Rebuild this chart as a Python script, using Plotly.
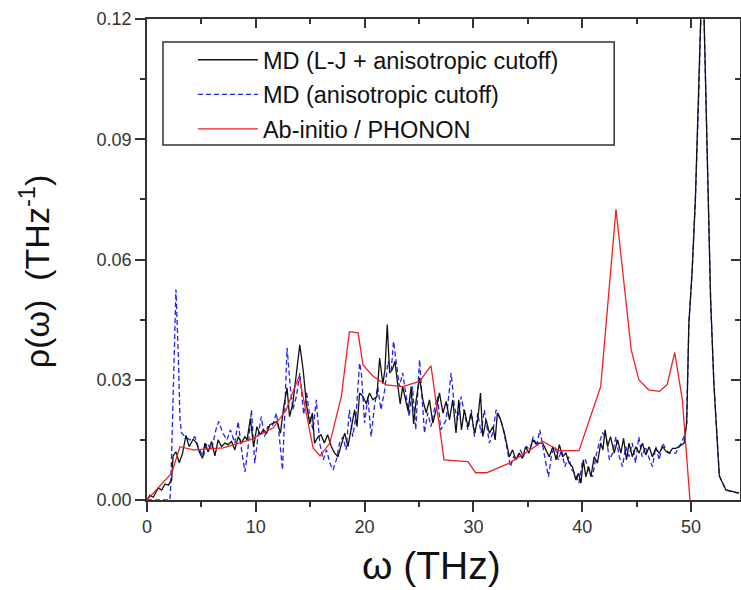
import plotly.graph_objects as go

# ---------------- data ----------------
# MD (L-J + anisotropic cutoff)  -- black
w_lj = [0.0, 0.27, 0.58, 1.04, 1.35, 1.65, 1.96, 2.26, 2.4, 2.66, 2.97, 3.27, 3.58, 3.88, 4.25, 4.56,
        4.8, 5.1, 5.32, 5.63, 5.93, 6.24, 6.54, 6.85, 7.16, 7.46, 7.77, 8.07, 8.38, 8.69, 8.99, 9.2,
        9.5, 9.8, 10.1, 10.4, 10.7, 11.0, 11.3, 11.65, 11.96, 12.26, 12.57, 12.87, 13.1, 13.4, 13.75,
        14.04, 14.35, 14.65, 14.96, 15.2, 15.4, 15.72, 16.0, 16.3, 16.6, 16.94, 17.25, 17.55, 17.86,
        18.17, 18.47, 18.78, 19.08, 19.3, 19.54, 19.85, 20.15, 20.45, 20.76, 21.13, 21.38, 21.68,
        21.87, 22.08, 22.3, 22.54, 22.79, 23.03, 23.27, 23.5, 23.76, 24.0, 24.28, 24.5, 24.74, 25.05,
        25.35, 25.66, 25.96, 26.27, 26.57, 26.88, 27.2, 27.5, 27.8, 28.1, 28.4, 28.65, 28.9, 29.17,
        29.5, 29.8, 30.1, 30.4, 30.65, 30.86, 31.17, 31.47, 31.8, 32.0, 32.2, 32.5, 32.85, 33.3, 33.6,
        33.9, 34.2, 34.5, 34.8, 35.1, 35.45, 35.75, 36.05, 36.36, 36.66, 36.97, 37.3, 37.6, 37.9, 38.2,
        38.5, 38.8, 39.1, 39.42, 39.66, 39.88, 40.1, 40.33, 40.58, 40.8, 41.1, 41.4, 41.7, 41.9, 42.1,
        42.33, 42.6, 42.94, 43.25, 43.55, 43.8, 44.07, 44.3, 44.6, 44.92, 45.23, 45.54, 45.84, 46.15,
        46.45, 46.76, 47.07, 47.4, 47.7, 48.0, 48.3, 48.6, 48.9, 49.36, 49.6, 49.8, 50.1, 50.4, 50.7,
        50.97, 51.05, 51.2, 51.5, 51.8, 52.1, 52.6, 53.2, 54.4]
rho_lj = [0.0, 0.0012, 0.0007, 0.003, 0.0025, 0.004, 0.0037, 0.005, 0.011, 0.012, 0.0093, 0.0117,
          0.0161, 0.0133, 0.0152, 0.0142, 0.012, 0.0104, 0.0142, 0.012, 0.0146, 0.011, 0.015, 0.0133,
          0.0142, 0.0138, 0.0146, 0.0125, 0.0158, 0.0142, 0.0158, 0.015, 0.0204, 0.0133, 0.0183,
          0.0163, 0.0175, 0.0167, 0.0188, 0.0192, 0.0196, 0.0167, 0.0233, 0.028, 0.0208, 0.024, 0.0325,
          0.0387, 0.0325, 0.024, 0.019, 0.0217, 0.0142, 0.0158, 0.0163, 0.0142, 0.0163, 0.0133, 0.0117,
          0.0108, 0.0138, 0.0167, 0.0133, 0.0175, 0.0225, 0.0183, 0.0267, 0.0258, 0.024, 0.0267, 0.025,
          0.0258, 0.0354, 0.029, 0.0325, 0.0438, 0.0317, 0.0325, 0.0346, 0.029, 0.024, 0.0283, 0.025,
          0.0221, 0.0283, 0.019, 0.025, 0.0305, 0.025, 0.0217, 0.025, 0.0192, 0.0225, 0.0267, 0.0217,
          0.0246, 0.02, 0.025, 0.0167, 0.025, 0.0175, 0.0225, 0.0183, 0.0217, 0.0167, 0.02, 0.0267,
          0.0158, 0.02, 0.0167, 0.0183, 0.015, 0.0217, 0.02, 0.0167, 0.0108, 0.0125, 0.01, 0.0117,
          0.0104, 0.0133, 0.0117, 0.015, 0.0142, 0.0142, 0.0142, 0.0125, 0.0108, 0.0133, 0.01, 0.0138,
          0.0108, 0.0117, 0.0092, 0.0083, 0.005, 0.0067, 0.0042, 0.01, 0.0058, 0.0083, 0.0058, 0.0108,
          0.0092, 0.0142, 0.0125, 0.0175, 0.0133, 0.0158, 0.0117, 0.015, 0.0117, 0.0154, 0.01, 0.0142,
          0.0108, 0.0133, 0.0117, 0.0142, 0.0112, 0.0133, 0.0108, 0.0129, 0.0117, 0.0133, 0.0121,
          0.0117, 0.0129, 0.0129, 0.0133, 0.0142, 0.0192, 0.044, 0.057, 0.075, 0.10, 0.12, 0.135,
          0.12, 0.083, 0.050, 0.029, 0.006, 0.0025, 0.0017]

# MD (anisotropic cutoff)  -- blue dashed
w_an = [0.0, 1.0, 2.11, 2.2, 2.45, 2.66, 2.87, 3.03, 3.18, 3.5, 3.95, 4.4, 4.7, 5.17, 5.5, 5.93, 6.33,
        6.6, 6.97, 7.35, 7.67, 8.07, 8.38, 8.69, 9.0, 9.3, 9.6, 9.9, 10.2, 10.5, 10.8, 11.1, 11.5,
        11.9, 12.1, 12.45, 12.66, 12.87, 13.18, 13.4, 13.73, 14.04, 14.4, 14.65, 14.96, 15.26, 15.56,
        15.87, 16.2, 16.5, 16.8, 17.1, 17.4, 17.7, 18.0, 18.3, 18.6, 18.9, 19.2, 19.54, 19.7, 20.0,
        20.3, 20.6, 20.9, 21.2, 21.5, 21.85, 22.15, 22.45, 22.66, 22.9, 23.2, 23.5, 23.8, 24.1, 24.4,
        24.7, 25.05, 25.5, 25.8, 26.1, 26.4, 26.7, 27.0, 27.5, 27.95, 28.25, 28.55, 28.87, 29.17, 29.5,
        29.8, 30.1, 30.4, 30.7, 31.0, 31.47, 31.77, 32.08, 32.4, 32.7, 33.06, 33.4, 33.7, 34.0, 34.3,
        34.6, 34.9, 35.2, 35.5, 35.8, 36.1, 36.4, 36.66, 36.9, 37.2, 37.5, 37.8, 38.1, 38.4, 38.75,
        39.05, 39.35, 39.7, 40.0, 40.3, 40.6, 40.95, 41.25, 41.56, 41.86, 42.2, 42.5, 42.8, 43.1, 43.4,
        43.7, 44.0, 44.3, 44.6, 44.9, 45.2, 45.5, 45.8, 46.1, 46.45, 46.76, 47.07, 47.4, 47.7, 48.0,
        48.3, 48.6, 49.0, 49.36, 49.6, 49.8, 50.1, 50.4, 50.7, 50.97, 51.05, 51.2, 51.5, 51.8, 52.1,
        52.6, 53.2, 54.4]
rho_an = [0.0, 0.0, 0.0, 0.005, 0.03, 0.0525, 0.0367, 0.02, 0.0167, 0.0158, 0.015, 0.0158, 0.0133,
          0.0108, 0.0142, 0.0125, 0.0175, 0.0196, 0.0167, 0.015, 0.0175, 0.0142, 0.0196, 0.0125,
          0.007, 0.0133, 0.0225, 0.0092, 0.0158, 0.0208, 0.0158, 0.0183, 0.0183, 0.0217, 0.0175,
          0.0075, 0.0217, 0.038, 0.028, 0.0225, 0.0258, 0.0317, 0.0213, 0.0271, 0.0208, 0.0175, 0.025,
          0.0142, 0.01, 0.0125, 0.0092, 0.0075, 0.01, 0.0142, 0.0158, 0.0125, 0.0225, 0.0158, 0.0208,
          0.0342, 0.0317, 0.0192, 0.0258, 0.0158, 0.0233, 0.0283, 0.0225, 0.0275, 0.0346, 0.0325,
          0.0396, 0.0342, 0.0283, 0.0317, 0.0258, 0.0208, 0.0283, 0.0175, 0.035, 0.0167, 0.0217,
          0.0183, 0.0225, 0.0258, 0.0175, 0.02, 0.0317, 0.0233, 0.02, 0.0258, 0.0217, 0.0175, 0.0225,
          0.0158, 0.0217, 0.0167, 0.0225, 0.0142, 0.0167, 0.0225, 0.0208, 0.0183, 0.0133, 0.0083,
          0.0108, 0.01, 0.0125, 0.0108, 0.0133, 0.0125, 0.0158, 0.0133, 0.0175, 0.0125, 0.0092, 0.0058,
          0.0117, 0.0133, 0.01, 0.0125, 0.0083, 0.0108, 0.0075, 0.0067, 0.0042, 0.0092, 0.01, 0.0075,
          0.0058, 0.0108, 0.0142, 0.0167, 0.0158, 0.01, 0.0117, 0.0158, 0.0108, 0.0083, 0.0133, 0.0108,
          0.0142, 0.0092, 0.0158, 0.0108, 0.0133, 0.0108, 0.0083, 0.0133, 0.01, 0.0142, 0.0125, 0.0117,
          0.0117, 0.0117, 0.0138, 0.0158, 0.0192, 0.044, 0.057, 0.075, 0.10, 0.12, 0.135, 0.12, 0.083,
          0.050, 0.029, 0.006, 0.0025, 0.0017]

# Ab-initio / PHONON  -- red
w_ab = [0.0, 2.26, 3.03, 4.25, 7.0, 9.45, 11.6, 12.8, 13.7, 13.98, 15.27, 15.9, 16.8, 17.86, 18.6, 19.4,
        19.85, 20.8, 22.0, 23.5, 25.05, 26.1, 27.3, 29.5, 30.2, 31.2, 33.3, 36.4, 37.9, 39.7, 41.7,
        43.1, 43.7, 44.5, 45.2, 46.1, 47.1, 47.8, 48.5, 49.2, 49.9]
rho_ab = [0.0, 0.0067, 0.0133, 0.0125, 0.013, 0.015, 0.018, 0.0225, 0.029, 0.0308, 0.0129, 0.011,
          0.0142, 0.0258, 0.042, 0.0417, 0.0337, 0.0308, 0.0287, 0.0283, 0.0296, 0.0335, 0.010,
          0.0096, 0.0068, 0.0068, 0.0092, 0.0146, 0.0123, 0.0123, 0.0283, 0.0725, 0.0575, 0.0375,
          0.030, 0.0275, 0.0271, 0.0288, 0.0368, 0.025, 0.0]

x_ticks = [0, 10, 20, 30, 40, 50]
y_ticks = [0.00, 0.03, 0.06, 0.09, 0.12]
y_tick_text = ["0.00", "0.03", "0.06", "0.09", "0.12"]

# ---------------- figure ----------------
FONT = "Liberation Sans, Arial, sans-serif"
fig = go.Figure()
# blue drawn first so black sits on top, legend order fixed by legendrank
fig.add_trace(go.Scatter(x=w_an, y=rho_an, mode="lines", name="MD (anisotropic cutoff)",
                         legendrank=2, legendgroup="g2",
                         line=dict(color="#2222ee", width=1.3, dash="5px,3px")))
fig.add_trace(go.Scatter(x=w_lj, y=rho_lj, mode="lines", name="MD (L-J + anisotropic cutoff)",
                         legendrank=1, legendgroup="g1",
                         line=dict(color="#111111", width=1.3)))
fig.add_trace(go.Scatter(x=w_ab, y=rho_ab, mode="lines", name="Ab-initio / PHONON",
                         legendrank=3, legendgroup="g3",
                         line=dict(color="#ee2222", width=1.3)))

axis_col = "#333333"
tick_font = dict(family=FONT, size=18, color="#333333")
XR = [0, 54.5]
YR = [0, 0.12]

fig.update_layout(
    width=741, height=590,
    margin=dict(l=147, r=1, t=19, b=90),
    paper_bgcolor="white", plot_bgcolor="white",
    showlegend=True,
    legend=dict(x=0.0774, y=0.9605, xanchor="left", yanchor="top",
                bgcolor="rgba(0,0,0,0)", borderwidth=0,
                font=dict(family=FONT, size=23.5, color="#111111"),
                itemwidth=60, traceorder="grouped", tracegroupgap=1),
    shapes=[dict(type="rect", xref="paper", yref="paper",
                 x0=(163 - 147) / 594, x1=(615 - 147) / 594,
                 y0=(500 - 145) / 481, y1=(500 - 42) / 481,
                 line=dict(color="#333333", width=1.5), fillcolor="rgba(0,0,0,0)")],
    xaxis=dict(range=XR, tickvals=x_ticks, ticks="outside", ticklen=10, tickwidth=1.5,
               tickcolor=axis_col, showline=True, linecolor=axis_col, linewidth=1.5,
               showgrid=False, zeroline=False, tickfont=tick_font,
               minor=dict(dtick=5, tick0=0, ticks="outside", ticklen=5, tickwidth=1.5,
                          tickcolor=axis_col, showgrid=False)),
    yaxis=dict(range=YR, tickvals=y_ticks, ticktext=y_tick_text, ticks="outside", ticklen=10,
               tickwidth=1.5, tickcolor=axis_col, showline=True, linecolor=axis_col,
               linewidth=1.5, showgrid=False, zeroline=False, tickfont=tick_font,
               minor=dict(dtick=0.015, tick0=0, ticks="outside", ticklen=5, tickwidth=1.5,
                          tickcolor=axis_col, showgrid=False)),
    xaxis2=dict(range=XR, overlaying="x", side="top", tickvals=x_ticks, ticks="inside",
                ticklen=9, tickwidth=1.5, tickcolor=axis_col, showline=True, linecolor=axis_col,
                linewidth=1.5, showticklabels=False, showgrid=False, zeroline=False,
                minor=dict(dtick=5, tick0=0, ticks="inside", ticklen=5, tickwidth=1.5,
                           tickcolor=axis_col, showgrid=False)),
    yaxis2=dict(range=YR, overlaying="y", side="right", tickvals=y_ticks, ticks="inside",
                ticklen=9, tickwidth=1.5, tickcolor=axis_col, showline=True, linecolor=axis_col,
                linewidth=1.5, showticklabels=False, showgrid=False, zeroline=False,
                minor=dict(dtick=0.015, tick0=0, ticks="inside", ticklen=5, tickwidth=1.5,
                           tickcolor=axis_col, showgrid=False)),
    annotations=[
        dict(text="ω (THz)", xref="paper", yref="paper", x=(432 - 147) / 594,
             y=(500 - 565) / 481, xanchor="center", yanchor="middle", showarrow=False,
             font=dict(family=FONT, size=39, color="#111111")),
        dict(text="ρ(ω)\u00a0\u00a0(THz<sup>-1</sup>)", xref="paper", yref="paper",
             x=(34 - 147) / 594, y=(500 - 271) / 481,
             xanchor="center", yanchor="middle", textangle=-90, showarrow=False,
             font=dict(family=FONT, size=34, color="#111111")),
    ],
)
# invisible trace to activate the mirrored axes
fig.add_trace(go.Scatter(x=[None], y=[None], xaxis="x2", yaxis="y2", showlegend=False,
                         hoverinfo="skip"))

fig.write_html("out.html")
